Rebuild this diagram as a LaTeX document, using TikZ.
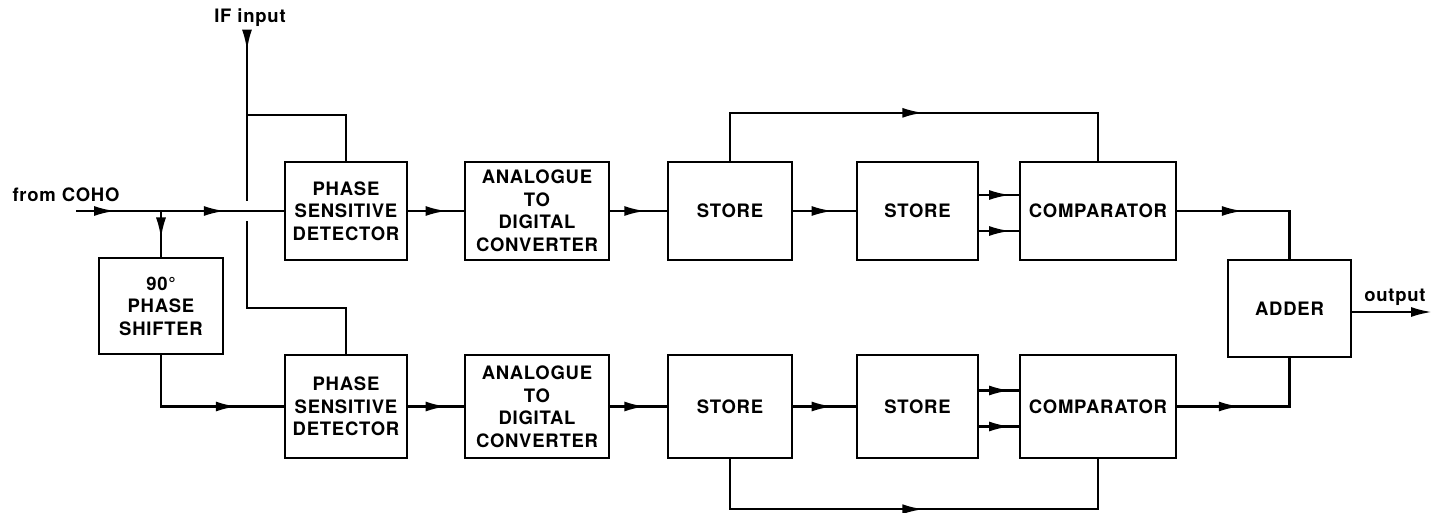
\documentclass[tikz,border=0pt]{standalone}
\usepackage{fontspec}
\setmainfont{TeX Gyre Heros}[LetterSpace=4]
\usepackage{tikz}
\usetikzlibrary{arrows.meta,decorations.markings}
\tikzstyle{block} = [draw=black, line width=2.4pt, align=center, inner sep=0pt, font=\fontsize{18.5}{22.5}\selectfont\bfseries]
\tikzstyle{tag} = [inner sep=0pt, font=\fontsize{18.5}{22.5}\selectfont\bfseries]
\tikzstyle{wire} = [black, line width=2.4pt]
\tikzstyle{flow} = [postaction={decorate}, decoration={markings, mark=at position #1 with {\arrow{Latex[length=21pt,width=10pt]}}}]

\begin{document}
\begin{tikzpicture}[x=1pt, y=-1pt]
            \useasboundingbox (0,0) rectangle (1432,512);
            \node [block, minimum width=124pt, minimum height=96pt] (shift) at (161,306) {90°\\PHASE\\SHIFTER};
            \node [block, minimum width=122pt, minimum height=98pt] (psdA) at (346,211) {PHASE\\SENSITIVE\\DETECTOR};
            \node [block, minimum width=144pt, minimum height=98pt] (adcA) at (537,211) {ANALOGUE\\TO\\DIGITAL\\CONVERTER};
            \node [block, minimum width=124pt, minimum height=98pt] (stA1) at (730,211) {STORE};
            \node [block, minimum width=121pt, minimum height=98pt] (stA2) at (917.5,211) {STORE};
            \node [block, minimum width=156pt, minimum height=98pt] (cmpA) at (1098,211) {COMPARATOR};
            \node [block, minimum width=122pt, minimum height=103pt] (psdB) at (346,406.5) {PHASE\\SENSITIVE\\DETECTOR};
            \node [block, minimum width=144pt, minimum height=103pt] (adcB) at (537,406.5) {ANALOGUE\\TO\\DIGITAL\\CONVERTER};
            \node [block, minimum width=124pt, minimum height=103pt] (stB1) at (730,406.5) {STORE};
            \node [block, minimum width=121pt, minimum height=103pt] (stB2) at (917.5,406.5) {STORE};
            \node [block, minimum width=156pt, minimum height=103pt] (cmpB) at (1098,406.5) {COMPARATOR};
            \node [block, minimum width=123pt, minimum height=97pt] (adder) at (1289.5,308.5) {ADDER};
            \node [tag] (iftxt) at (250,18) {IF input};
            \node [tag] (cohotxt) at (66,195) {from COHO};
            \node [tag] (outtxt) at (1395,297) {output};
            \coordinate (cohoin) at (76,211);
            \coordinate (split) at (161,211);
            \coordinate (iftop) at (247,30);
            \coordinate (ifgapa) at (247,201);
            \coordinate (ifgapb) at (247,221);
            \coordinate (ifbranch) at (247,115);
            \coordinate (ifend) at (247,308);
            \coordinate (outend) at (1432,312);
            \draw [wire, flow=0.12] (iftop) -- (ifgapa);
            \draw [wire] (ifbranch) -| (psdA.north);
            \draw [wire] (ifgapb) -- (ifend) -| (psdB.north);
            \draw [wire, flow=0.46] (cohoin) -- (split);
            \draw [wire, flow=0.52] (split) -- (psdA.west);
            \draw [wire, flow=0.6] (split) -- (shift.north);
            \draw [wire, flow=0.73] (shift.south) |- (psdB.west);
            \foreach \r in {A,B} {
                \draw [wire, flow=0.69] (psd\r.east) -- (adc\r.west);
                \draw [wire, flow=0.62] (adc\r.east) -- (st\r1.west);
                \draw [wire, flow=0.63] (st\r1.east) -- (st\r2.west);
                \draw [wire, flow=0.78] ([yshift=16pt]st\r2.east) -- ([yshift=16pt]cmp\r.west);
                \draw [wire, flow=0.78] ([yshift=-20pt]st\r2.east) -- ([yshift=-20pt]cmp\r.west);
            }
            \draw [wire, flow=0.52] (stA1.north) -- ++(0,-48) -| (cmpA.north);
            \draw [wire, flow=0.52] (stB1.south) -- ++(0,50) -| (cmpB.south);
            \draw [wire, flow=0.41] (cmpA.east) -| (adder.north);
            \draw [wire, flow=0.39] (cmpB.east) -| (adder.south);
            \draw [wire, -{Latex[length=21pt,width=10pt]}] (adder.east |- outend) -- (outend);
\end{tikzpicture}
\end{document}
